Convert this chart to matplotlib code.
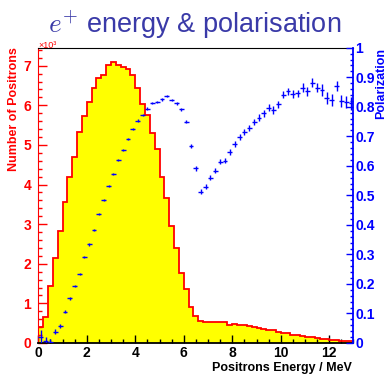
import numpy as np
import matplotlib
matplotlib.use("Agg")
import matplotlib.pyplot as plt
from matplotlib.ticker import MultipleLocator, FuncFormatter

# 65 bins de 0.2 MeV entre 0 et 13 MeV
energy_edges = np.linspace(0, 13, 66)

# nombre de positrons par bin (x10^3)
positrons_k = [0.40, 0.66, 1.44, 2.15, 2.84, 3.56, 4.18, 4.69, 5.33, 5.73,
               6.09, 6.43, 6.70, 6.77, 7.01, 7.10, 7.02, 6.96, 6.91, 6.76,
               6.43, 6.04, 5.76, 5.29, 4.90, 4.18, 3.65, 2.95, 2.40, 1.76,
               1.36, 0.91, 0.69, 0.56, 0.54, 0.53, 0.53, 0.52, 0.52, 0.45,
               0.47, 0.45, 0.46, 0.43, 0.41, 0.39, 0.36, 0.34, 0.32, 0.28,
               0.26, 0.24, 0.21, 0.19, 0.17, 0.16, 0.14, 0.12, 0.10, 0.09,
               0.08, 0.07, 0.06, 0.05, 0.04]

# polarisation moyenne par bin
polarization = [0.019, 0.008, 0.004, 0.038, 0.058, 0.106, 0.151, 0.193, 0.233, 0.292,
                0.334, 0.383, 0.436, 0.484, 0.532, 0.572, 0.620, 0.654, 0.691, 0.724,
                0.753, 0.772, 0.794, 0.812, 0.817, 0.825, 0.836, 0.822, 0.812, 0.791,
                0.750, 0.667, 0.591, 0.512, 0.529, 0.560, 0.584, 0.614, 0.617, 0.648,
                0.673, 0.699, 0.716, 0.729, 0.749, 0.763, 0.778, 0.797, 0.789, 0.808,
                0.840, 0.853, 0.843, 0.845, 0.865, 0.852, 0.881, 0.865, 0.858, 0.829,
                0.822, 0.869, 0.819, 0.815, 0.812]

pol_err = [0.025, 0.012, 0.010, 0.008, 0.007, 0.006, 0.005, 0.004, 0.004, 0.004,
           0.004, 0.004, 0.004, 0.004, 0.004, 0.004, 0.004, 0.004, 0.004, 0.004,
           0.004, 0.004, 0.004, 0.004, 0.004, 0.004, 0.004, 0.004, 0.005, 0.005,
           0.005, 0.006, 0.007, 0.008, 0.008, 0.008, 0.009, 0.009, 0.009, 0.010,
           0.010, 0.010, 0.010, 0.010, 0.011, 0.011, 0.011, 0.012, 0.012, 0.012,
           0.012, 0.012, 0.013, 0.013, 0.014, 0.015, 0.015, 0.016, 0.020, 0.020,
           0.020, 0.017, 0.020, 0.020, 0.022]

plt.rcParams['font.family'] = ['Liberation Sans', 'DejaVu Sans']
plt.rcParams['font.weight'] = 'bold'
plt.rcParams['mathtext.fontset'] = 'cm'

W, H = 386, 374
fig = plt.figure(figsize=(W / 100, H / 100), dpi=100)
ax = fig.add_axes([38.3 / W, 31 / H, 315.2 / W, 295.3 / H])

# histogramme
ax.stairs(positrons_k, energy_edges, fill=True, color='#ffff00', zorder=1)
ax.stairs(positrons_k, energy_edges, color='#ff0000', lw=1.3, baseline=0, zorder=2)
ax.set_xlim(0, 13)
ax.set_ylim(0, 7.455)

ax.xaxis.set_major_locator(MultipleLocator(2))
ax.xaxis.set_minor_locator(MultipleLocator(0.5))
ax.yaxis.set_major_locator(MultipleLocator(1))
ax.yaxis.set_minor_locator(MultipleLocator(0.2))
fmt = FuncFormatter(lambda v, _: f'{v:g}')
ax.xaxis.set_major_formatter(fmt)
ax.yaxis.set_major_formatter(fmt)

ax.tick_params(axis='x', which='both', direction='in', top=False, colors='black', labelsize=10, pad=2)
ax.tick_params(axis='x', which='major', length=6, width=1)
ax.tick_params(axis='x', which='minor', length=3, width=1)
ax.tick_params(axis='y', which='both', direction='in', right=False, colors='#ff0000', labelsize=10, pad=5)
ax.tick_params(axis='y', which='major', length=6.5, width=1)
ax.tick_params(axis='y', which='minor', length=3.2, width=1)

ax.spines['left'].set_color('#ff0000')
ax.spines['bottom'].set_color('black')
ax.spines['bottom'].set_linewidth(1.3)
ax.spines['top'].set_color('black')
ax.spines['right'].set_visible(False)

# polarisation sur l'axe de droite
ax2 = ax.twinx()
centers = (energy_edges[:-1] + energy_edges[1:]) / 2
ax2.errorbar(centers, polarization, yerr=pol_err, xerr=0.1, fmt='none',
             ecolor='#0000ff', elinewidth=1.0, zorder=3)
ax2.set_ylim(0, 1)
ax2.set_xlim(0, 13)
ax2.yaxis.set_major_locator(MultipleLocator(0.1))
ax2.yaxis.set_minor_locator(MultipleLocator(0.02))
ax2.yaxis.set_major_formatter(fmt)
ax2.tick_params(axis='y', which='both', direction='in', colors='#0000ff', labelsize=10, pad=1.5)
ax2.tick_params(axis='y', which='major', length=5, width=1)
ax2.tick_params(axis='y', which='minor', length=2.5, width=1)
for s in ['left', 'top', 'bottom']:
    ax2.spines[s].set_visible(False)
ax2.spines['right'].set_color('#0000ff')
ax2.spines['right'].set_linewidth(1.3)

# textes
fig.text(195 / W, 1 - 33.5 / H, r'$e^{+}$ energy & polarisation', ha='center', va='baseline',
         fontsize=19.5, fontweight='normal', color='#3a3aa8')
fig.text(38 / W, 1 - 47.5 / H, '×10³', ha='left', va='baseline', fontsize=6.5,
         fontweight='normal', color='#ff0000')
fig.text(14.5 / W, 1 - 47 / H, 'Number of Positrons', rotation=90, ha='center', va='top',
         fontsize=9, color='#ff0000')
fig.text(381 / W, 1 - 48 / H, 'Polarization', rotation=90, ha='center', va='top',
         fontsize=9, color='#0000ff')
fig.text(352 / W, 1 - 370.7 / H, 'Positrons Energy / MeV', ha='right', va='baseline',
         fontsize=9, color='black')

fig.savefig('out.png', dpi=100)
